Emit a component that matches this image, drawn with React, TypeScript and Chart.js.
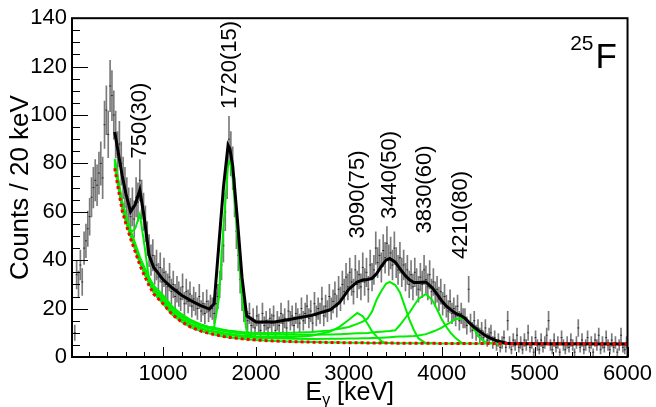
import React, { useEffect, useRef } from "react";
import { Chart, registerables } from "chart.js";

Chart.register(...registerables);

// ---- Histogram: counts per 20 keV bin, bin centres from 50 keV ----
const BIN_START = 50;
const BIN_WIDTH = 20;
const countsLow = [
  10, 34, 30, 38, 31, 45, 48, 53, 58, 66,
  70, 73, 71, 76, 80, 74, 96, 102, 92, 112,
  108, 100, 92, 84, 88, 80, 74, 70, 66, 62,
  58, 62, 57, 66, 64, 73, 65, 60, 55, 49,
  44, 40, 42, 36, 38, 33, 37, 31, 35, 30,
  29, 33, 27, 30, 25, 28, 26, 24, 29, 22,
  27, 23, 26, 21, 24, 22, 20, 25, 19, 22,
  18, 23, 19, 21, 20, 18, 22, 25, 30, 38,
  46, 60, 74, 90, 84, 78, 66, 52, 42, 32,
];
const countsMid = [
  24, 19, 16, 15, 18, 13, 16, 12, 17, 14,
  11, 18, 13, 15, 12, 16, 14, 17, 11, 15,
  13, 18, 14, 16, 12, 19, 15, 17, 13, 18,
  16, 14, 20, 15, 18, 21, 16, 19, 14, 22,
  17, 20, 18, 24, 17, 21, 19, 25, 20, 23,
  26, 21, 28, 24, 30, 27, 33, 29, 35, 31,
  27, 36, 30, 34, 29, 37, 31, 35, 28, 38,
  33, 36, 45, 39, 42, 37, 44, 41, 47, 40,
  43, 38, 45, 39, 36, 41, 35, 38, 33, 36,
  30, 34, 29, 35, 31, 28, 33, 30, 36, 32,
];
const countsHigh = [
  29, 34, 27, 31, 26, 28, 24, 27, 22, 25,
  21, 19, 23, 18, 20, 17, 21, 15, 18, 16,
  16, 13, 28, 14, 11, 15, 10, 12, 9, 11,
  8, 12, 7, 9, 10, 6, 8, 5, 7, 4,
  6, 8, 4, 15, 6, 3, 7, 5, 9, 4,
  6, 3, 7, 5, 10, 4, 6, 2, 8, 5,
  3, 7, 4, 6, 9, 15, 5, 3, 7, 4,
  6, 2, 8, 5, 3, 6, 4, 7, 5, 2,
  6, 12, 4, 7, 3, 5, 8, 4, 6, 2,
  7, 5, 9, 3, 6, 4, 8, 5, 3, 7,
  4, 6, 2, 5, 9, 4, 3, 6,
];

// ---- Fit curves, sampled at these energies (keV) ----
const fitEnergy = [
  480, 520, 560, 600, 650, 700, 750, 800, 850, 900,
  1000, 1100, 1200, 1300, 1400, 1500, 1550, 1600, 1650, 1700,
  1720, 1750, 1800, 1850, 1900, 2000, 2200, 2400, 2600, 2800,
  2900, 3000, 3090, 3150, 3200, 3250, 3300, 3350, 3400, 3440,
  3500, 3550, 3600, 3650, 3700, 3750, 3830, 3900, 3950, 4000,
  4050, 4100, 4150, 4210, 4250, 4300, 4350, 4400, 4450, 4500,
  4600, 4700, 4800, 5000, 6000,
];
const background = [
  78, 69, 60.5, 55, 49, 43.5, 38, 33.5, 29.5, 26,
  22, 17.5, 14.5, 12.3, 10.8, 9.7, 9.3, 8.9, 8.5, 8.2,
  8.1, 7.95, 7.7, 7.5, 7.35, 7.0, 6.6, 6.35, 6.15, 6.0,
  5.95, 5.9, 5.87, 5.85, 5.83, 5.81, 5.8, 5.78, 5.76, 5.75,
  5.73, 5.72, 5.7, 5.69, 5.68, 5.67, 5.65, 5.64, 5.63, 5.62,
  5.61, 5.6, 5.6, 5.59, 5.58, 5.58, 5.57, 5.57, 5.56, 5.56,
  5.55, 5.54, 5.53, 5.5, 5.4,
];
const totalFit = [
  93, 84, 75, 67.5, 60, 63, 69, 57, 42, 37,
  32, 28.5, 25.5, 23.3, 21.3, 19.8, 22, 46, 70, 87.5,
  86, 79, 57, 33, 17, 14.5, 14.5, 15.8, 17.2, 19.5,
  22.5, 28, 31, 31.8, 32, 32.5, 34.5, 37.5, 40, 40.7,
  39.2, 36.5, 34, 32, 30.8, 30.8, 31, 28.5, 26, 23.2,
  21, 19.5, 18, 17, 16, 14, 12.3, 10.8, 9.4, 8.2,
  6.6, 5.7, 5.5, 5.5, 5.4,
];
const line750 = [
  81.5, 72.5, 64, 58.5, 51.5, 53, 59, 46, 32, 26.5,
  22, 17.5, 14.5, 12.3, 10.8, 9.7, 9.3, 8.9, 8.5, 8.2,
  8.1, 7.95, 7.7, 7.5, 7.35, 7.0, 6.6, 6.35, 6.15, 6.0,
  5.95, 5.9, 5.87, 5.85, 5.83, 5.81, 5.8, 5.78, 5.76, 5.75,
  5.73, 5.72, 5.7, 5.69, 5.68, 5.67, 5.65, 5.64, 5.63, 5.62,
  5.61, 5.6, 5.6, 5.59, 5.58, 5.58, 5.57, 5.57, 5.56, 5.56,
  5.55, 5.54, 5.53, 5.5, 5.4,
];
const line1720 = [
  82, 72.9, 64.3, 58.7, 52.6, 47, 41.5, 37, 33, 29.5,
  25.5, 20.9, 17.7, 15.3, 13.6, 12.3, 12.3, 23.9, 53.5, 79.2,
  81, 73.95, 50.7, 24.5, 10.85, 7.0,
];
const line3090 = [
  79.2, 70.2, 61.7, 56.2, 50.2, 44.7, 39.2, 34.7, 30.7, 27.2,
  23.2, 18.8, 15.8, 13.6, 12.1, 11.0, 10.6, 10.3, 9.9, 9.6,
  9.5, 9.35, 9.1, 8.9, 8.75, 8.5, 8.3, 8.25, 8.75, 10.5,
  12.45, 15.4, 18.17, 16.85, 13.83, 10.61, 8.4, 6.58, 5.76,
];
const line3440 = [
  80.5, 71.5, 63, 57.5, 51.5, 46, 40.5, 36, 32, 28.5,
  24.5, 20.1, 17.1, 14.9, 13.4, 12.3, 12.1, 11.7, 11.3, 11.0,
  10.9, 10.75, 10.5, 10.3, 10.15, 10.0, 9.9, 10.05, 10.35, 11.0,
  11.65, 12.4, 13.67, 14.65, 15.83, 18.81, 23.8, 27.28, 30.26, 31.05,
  29.73, 26.72, 21.2, 15.69, 11.18, 7.67, 5.65, 5.64,
];
const line3830 = [
  80, 71, 62.5, 57, 51, 45.5, 40, 35.5, 31.5, 28,
  24, 19.6, 16.6, 14.4, 12.9, 11.8, 11.5, 11.1, 10.7, 10.4,
  10.3, 10.15, 9.9, 9.7, 9.55, 9.4, 9.2, 9.15, 9.15, 9.3,
  9.45, 9.6, 9.77, 9.85, 9.93, 10.11, 10.3, 10.48, 10.66, 10.75,
  11.03, 13.22, 15.7, 18.19, 21.18, 23.97, 26.05, 23.44, 19.63, 15.62,
  12.41, 9.8, 7.8, 5.99, 5.58,
];
const line4210 = [
  78.8, 69.8, 61.3, 55.8, 49.8, 44.3, 38.8, 34.3, 30.3, 26.8,
  22.8, 18.4, 15.4, 13.2, 11.7, 10.6, 10.2, 9.8, 9.4, 9.1,
  9.0, 8.85, 8.6, 8.4, 8.25, 8.0, 7.7, 7.55, 7.45, 7.5,
  7.55, 7.6, 7.67, 7.75, 7.73, 7.81, 7.9, 7.98, 8.06, 8.15,
  8.33, 8.42, 8.5, 8.59, 8.68, 8.87, 9.45, 10.44, 11.23, 12.12,
  13.41, 14.4, 15.6, 16.09, 15.78, 13.88, 11.37, 8.37, 6.56, 5.86,
  5.55, 5.54, 5.53, 5.5, 5.4,
];

// ---- Peak labels ----
const peakLabels = ["750(30)", "1720(15)", "3090(75)", "3440(50)", "3830(60)", "4210(80)"];
const peakLabelEnergy = [750, 1720, 3095, 3440, 3820, 4210];
const peakLabelBase = [82, 102.5, 49, 57, 51, 40.5];

// ---- Axes ----
const X_MIN = 20;
const X_MAX = 6000;
const Y_MIN = 0;
const Y_MAX = 140;
const xTickLabels = [1000, 2000, 3000, 4000, 5000, 6000];
const yTickLabels = [0, 20, 40, 60, 80, 100, 120, 140];
const X_MINOR_STEP = 200;
const Y_MINOR_STEP = 5;

const FONT = "'Liberation Sans', Arial, Helvetica, sans-serif";

const rootStylePlugin = {
  id: "rootStyle",
  afterDraw(chart: any) {
    const { ctx, chartArea: a } = chart;
    const xs = chart.scales.x;
    const ys = chart.scales.y;
    ctx.save();
    ctx.strokeStyle = "#000";
    ctx.lineWidth = 1;
    ctx.beginPath();
    for (let v = X_MINOR_STEP; v <= X_MAX; v += X_MINOR_STEP) {
      if (v < X_MIN) continue;
      const px = Math.round(xs.getPixelForValue(v)) + 0.5;
      const len = v % 1000 === 0 ? 10 : 5;
      ctx.moveTo(px, a.bottom);
      ctx.lineTo(px, a.bottom - len);
    }
    for (let v = Y_MIN; v <= Y_MAX; v += Y_MINOR_STEP) {
      const py = Math.round(ys.getPixelForValue(v)) + 0.5;
      const len = v % 20 === 0 ? 16 : 8;
      ctx.moveTo(a.left, py);
      ctx.lineTo(a.left + len, py);
    }
    ctx.stroke();
    // frame
    ctx.lineWidth = 2;
    ctx.strokeRect(a.left, a.top, a.right - a.left, a.bottom - a.top);

    ctx.fillStyle = "#000";
    // peak labels
    ctx.font = `22px ${FONT}`;
    ctx.textAlign = "left";
    ctx.textBaseline = "middle";
    peakLabels.forEach((t, i) => {
      ctx.save();
      ctx.translate(xs.getPixelForValue(peakLabelEnergy[i]), ys.getPixelForValue(peakLabelBase[i]));
      ctx.rotate(-Math.PI / 2);
      ctx.fillText(t, 0, 0);
      ctx.restore();
    });

    // nucleus label
    ctx.textBaseline = "alphabetic";
    ctx.textAlign = "right";
    ctx.font = `21px ${FONT}`;
    ctx.fillText("25", a.right - 34, a.top + 32);
    ctx.textAlign = "left";
    ctx.font = `35px ${FONT}`;
    ctx.fillText("F", a.right - 32, a.top + 50);

    // y title
    ctx.save();
    ctx.font = `26px ${FONT}`;
    ctx.textAlign = "center";
    ctx.textBaseline = "alphabetic";
    ctx.translate(28, (a.top + a.bottom) / 2);
    ctx.rotate(-Math.PI / 2);
    ctx.fillText("Counts / 20 keV", 0, 0);
    ctx.restore();

    // x title  E_gamma [keV]
    const cx = (a.left + a.right) / 2;
    const base = 400;
    ctx.textAlign = "left";
    ctx.font = `25px ${FONT}`;
    const wE = ctx.measureText("E").width;
    const wK = ctx.measureText(" [keV]").width;
    ctx.font = `16px ${FONT}`;
    const wG = ctx.measureText("γ").width;
    const start = cx - (wE + wG + wK) / 2;
    ctx.font = `25px ${FONT}`;
    ctx.fillText("E", start, base);
    ctx.font = `16px ${FONT}`;
    ctx.fillText("γ", start + wE, base + 5);
    ctx.font = `25px ${FONT}`;
    ctx.fillText(" [keV]", start + wE + wG, base);
    ctx.restore();
  },
};

export default function App() {
  const canvasRef = useRef<HTMLCanvasElement | null>(null);

  useEffect(() => {
    const canvas = canvasRef.current;
    if (!canvas) return;
    const counts = [...countsLow, ...countsMid, ...countsHigh];
    const centres = counts.map((_, i) => BIN_START + i * BIN_WIDTH);
    const errorBars = counts.map((c, i) => ({
      x: centres[i],
      y: [Math.max(0, c - Math.sqrt(c)), c + Math.sqrt(c)],
    }));
    const binMarks = counts.map((c, i) => ({ x: centres[i], y: c }));
    const curve = (vals: number[]) => vals.map((v, i) => ({ x: fitEnergy[i], y: v }));
    const lineDs = (label: string, vals: number[], color: string, width: number, order: number, dash: number[] = []) => ({
      type: "line" as const,
      label,
      data: curve(vals),
      borderColor: color,
      borderWidth: width,
      borderDash: dash,
      pointRadius: 0,
      tension: 0,
      fill: false,
      order,
    });

    const chart = new Chart(canvas, {
      type: "line",
      data: {
        datasets: [
          lineDs("background", background, "#ff0000", 3, 0, [3, 3]) as any,
          lineDs("total", totalFit, "#000000", 3, 1) as any,
          lineDs("750", line750, "#00ee00", 2, 2) as any,
          lineDs("1720", line1720, "#00ee00", 2, 2) as any,
          lineDs("3090", line3090, "#00ee00", 2, 2) as any,
          lineDs("3440", line3440, "#00ee00", 2, 2) as any,
          lineDs("3830", line3830, "#00ee00", 2, 2) as any,
          lineDs("4210", line4210, "#00ee00", 2, 2) as any,
          {
            type: "scatter",
            label: "bins",
            data: binMarks,
            pointStyle: "line",
            pointRadius: 1,
            borderColor: "rgba(0,0,0,0.7)",
            borderWidth: 1,
            order: 3,
          } as any,
          {
            type: "bar",
            label: "errors",
            data: errorBars,
            backgroundColor: "rgba(40,40,40,0.62)",
            barThickness: 1,
            grouped: false,
            order: 4,
          } as any,
        ],
      },
      options: {
        responsive: false,
        animation: false,
        events: [],
        layout: { padding: { top: 16, right: 28, left: 0, bottom: 0 } },
        plugins: { legend: { display: false }, tooltip: { enabled: false }, title: { display: false } },
        scales: {
          x: {
            type: "linear",
            min: X_MIN,
            max: X_MAX,
            offset: false,
            grid: { display: false, drawTicks: false },
            border: { display: false },
            afterBuildTicks: (s: any) => {
              s.ticks = xTickLabels.map((v) => ({ value: v }));
            },
            afterFit: (s: any) => {
              s.height = 50;
            },
            ticks: {
              autoSkip: false,
              maxRotation: 0,
              padding: 4,
              color: "#000",
              font: { family: FONT, size: 22 },
              callback: (v: any) => String(v),
            },
          },
          y: {
            type: "linear",
            min: Y_MIN,
            max: Y_MAX,
            grid: { display: false, drawTicks: false },
            border: { display: false },
            afterBuildTicks: (s: any) => {
              s.ticks = yTickLabels.map((v) => ({ value: v }));
            },
            afterFit: (s: any) => {
              s.width = 72;
            },
            ticks: {
              autoSkip: false,
              padding: 5,
              color: "#000",
              font: { family: FONT, size: 22 },
              callback: (v: any) => String(v),
            },
          },
        },
      },
      plugins: [rootStylePlugin],
    });
    return () => chart.destroy();
  }, []);

  return (
    <div style={{ position: "fixed", left: 0, top: 0, width: 656, height: 407, background: "#fff" }}>
      <canvas ref={canvasRef} width={656} height={407} style={{ display: "block" }} />
    </div>
  );
}
